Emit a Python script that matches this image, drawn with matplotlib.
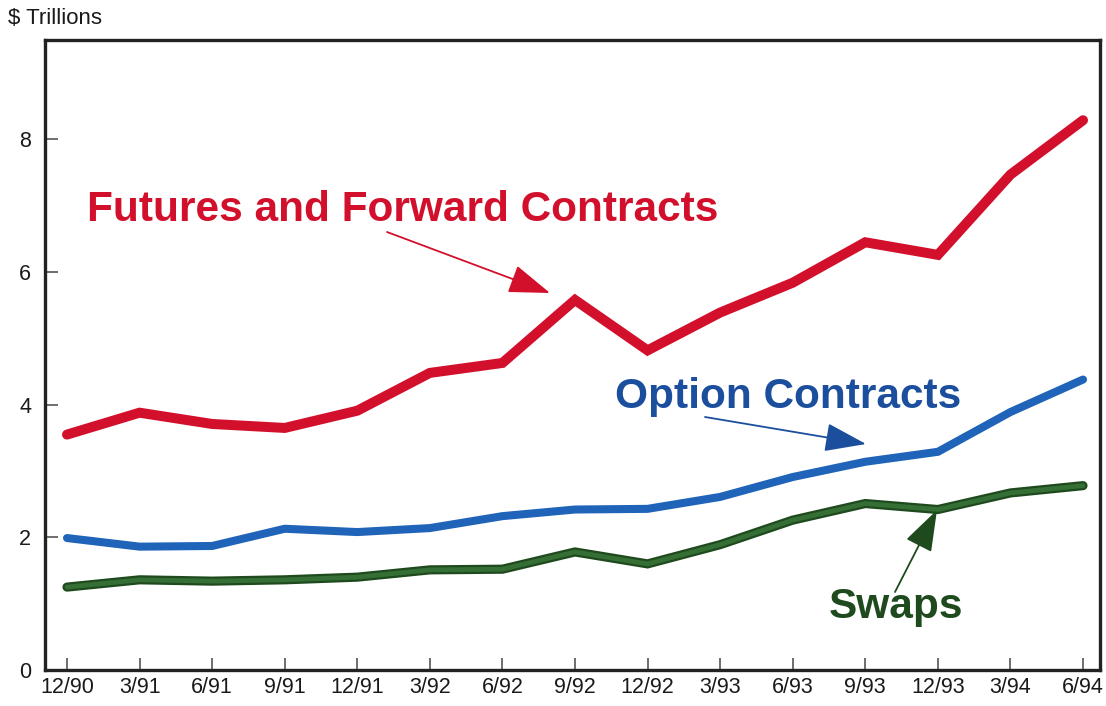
import matplotlib
matplotlib.use("Agg")
import matplotlib.pyplot as plt

quarters = ["12/90", "3/91", "6/91", "9/91", "12/91", "3/92", "6/92", "9/92",
            "12/92", "3/93", "6/93", "9/93", "12/93", "3/94", "6/94"]
futures = [3.55, 3.88, 3.71, 3.65, 3.91, 4.48, 4.63, 5.58, 4.82, 5.39, 5.84, 6.45, 6.26, 7.47, 8.29]
options = [1.99, 1.86, 1.87, 2.13, 2.08, 2.14, 2.32, 2.42, 2.43, 2.61, 2.91, 3.14, 3.29, 3.89, 4.38]
swaps = [1.25, 1.36, 1.34, 1.36, 1.40, 1.51, 1.52, 1.78, 1.60, 1.89, 2.26, 2.51, 2.42, 2.67, 2.78]
y_ticks = [0, 2, 4, 6, 8]

RED = "#d3102c"
BLUE = "#1f64b8"
BLUE_TXT = "#1b4f9e"
GREEN = "#356f35"
GREEN_DARK = "#1e4a1e"

plt.rcParams["font.family"] = ["Liberation Sans", "DejaVu Sans"]

fig = plt.figure(figsize=(11.06, 7.06), dpi=100)
ax = fig.add_axes([45 / 1106, 36 / 706, 1055 / 1106, 630 / 706])

x = list(range(len(quarters)))
ax.plot(x, futures, color=RED, lw=7.2, solid_capstyle="round", solid_joinstyle="miter", zorder=3)
ax.plot(x, options, color=BLUE, lw=5.8, solid_capstyle="round", solid_joinstyle="miter", zorder=3)
ax.plot(x, swaps, color=GREEN_DARK, lw=6.6, solid_capstyle="round", solid_joinstyle="miter", zorder=3)
ax.plot(x, swaps, color=GREEN, lw=3.4, solid_capstyle="round", solid_joinstyle="miter", zorder=3)

ax.set_xlim(-0.303, 14.234)
ax.set_ylim(0, 9.5)
ax.set_xticks(x)
ax.set_xticklabels(quarters)
ax.set_yticks(y_ticks)
ax.set_yticklabels([str(v) for v in y_ticks])
ax.tick_params(axis="both", direction="in", length=9, width=1.2, color="#555555",
               labelsize=15.5, labelcolor="#1a1a1a")
ax.tick_params(axis="x", pad=5)
ax.tick_params(axis="y", pad=10)
for s in ax.spines.values():
    s.set_linewidth(2.4)
    s.set_color("#222222")

fig.text(8 / 1106, 1 - 18 / 706, "$ Trillions", fontsize=16, color="#1a1a1a",
         ha="left", va="center")

def to_data(px, py):
    xd = -0.303 + (px - 45) / 1055 * (14.234 + 0.303)
    yd = (670 - py) / 630 * 9.5
    return xd, yd

def label(text, cx, cy, color, size):
    ax.text(*to_data(cx, cy), text, color=color, fontsize=size, fontweight="bold",
            ha="center", va="center", zorder=4)

def arrow(p0, p1, color):
    ax.annotate("", xy=to_data(*p1), xytext=to_data(*p0),
                arrowprops=dict(arrowstyle="-|>,head_length=2.6,head_width=0.9",
                                color=color, lw=1.3, shrinkA=0, shrinkB=0), zorder=4)

label("Futures and Forward Contracts", 403, 210, RED, 30.5)
arrow((387, 232), (550, 293), RED)
label("Option Contracts", 788, 397, BLUE_TXT, 30.5)
arrow((705, 417), (866, 444), BLUE_TXT)
label("Swaps", 896, 607, GREEN_DARK, 30.5)
arrow((895, 592), (937, 510), GREEN_DARK)

fig.savefig("out.png", dpi=100)
